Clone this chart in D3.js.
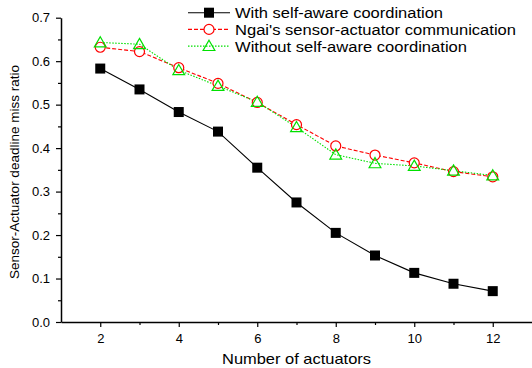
<!DOCTYPE html>
<html>
<head>
<meta charset="utf-8">
<script src="https://cdn.jsdelivr.net/npm/d3@7"></script>
<style>
  body { margin: 0; background: #fff; }
  text { font-family: "Liberation Sans", Arial, sans-serif; fill: #000; }
</style>
</head>
<body>
<div id="chart"></div>
<script>
// data
var actuators = [2, 3, 4, 5, 6, 7, 8, 9, 10, 11, 12];
var withSelfAware = [0.583, 0.535, 0.483, 0.438, 0.355, 0.275, 0.205, 0.153, 0.113, 0.088, 0.071];
var ngai = [0.632, 0.622, 0.585, 0.549, 0.505, 0.454, 0.405, 0.384, 0.366, 0.346, 0.334];
var withoutSelfAware = [0.643, 0.639, 0.579, 0.543, 0.506, 0.448, 0.385, 0.365, 0.359, 0.348, 0.337];
var seriesNames = ["With self-aware coordination", "Ngai's sensor-actuator communication", "Without self-aware coordination"];
var legendWidths = [208, 281, 232];
var xTicks = [2, 4, 6, 8, 10, 12];
var yTicks = [0.0, 0.1, 0.2, 0.3, 0.4, 0.5, 0.6, 0.7];

var w = 532, h = 368;
var margin = {top: 17.7, right: 0, bottom: 46, left: 61};

var svg = d3.select('#chart').append('svg')
  .attr('width', w)
  .attr('height', h);

var x = d3.scaleLinear().domain([1, 13]).range([margin.left, w - margin.right]);
var y = d3.scaleLinear().domain([0, 0.7]).range([h - margin.bottom, margin.top]);

// axes
var xAxis = svg.append('g')
  .attr('transform', 'translate(0,' + y(0) + ')')
  .call(d3.axisBottom(x).tickValues(xTicks).tickFormat(d3.format('d')).tickSize(5).tickSizeOuter(0));
svg.append('g')
  .attr('transform', 'translate(0,' + y(0) + ')')
  .call(d3.axisBottom(x).tickValues([3, 5, 7, 9, 11]).tickFormat('').tickSize(3).tickSizeOuter(0))
  .select('.domain').remove();

var yAxis = svg.append('g')
  .attr('transform', 'translate(' + x(1) + ',0)')
  .call(d3.axisLeft(y).tickValues(yTicks).tickFormat(d3.format('.1f')).tickSize(5).tickSizeOuter(0));
svg.append('g')
  .attr('transform', 'translate(' + x(1) + ',0)')
  .call(d3.axisLeft(y).tickValues([0.05, 0.15, 0.25, 0.35, 0.45, 0.55, 0.65]).tickFormat('').tickSize(3).tickSizeOuter(0))
  .select('.domain').remove();

svg.selectAll('.domain').attr('stroke', '#000').attr('stroke-width', 1.5);
svg.selectAll('.tick line').attr('stroke', '#000').attr('stroke-width', 1.2);
xAxis.selectAll('text').style('font-size', '13px').attr('dy', '1.0em');
yAxis.selectAll('text').style('font-size', '13px').attr('x', -11);

// axis titles
svg.append('text')
  .attr('x', 222).attr('y', 364)
  .attr('textLength', 149).attr('lengthAdjust', 'spacingAndGlyphs')
  .style('font-size', '15px')
  .text('Number of actuators');

svg.append('text')
  .attr('transform', 'translate(19,' + 172 + ') rotate(-90)')
  .attr('text-anchor', 'middle')
  .style('font-size', '13.5px')
  .text('Sensor-Actuator deadline miss ratio');

var line = d3.line()
  .x(function(d, i) { return x(actuators[i]); })
  .y(function(d) { return y(d); });

var series = [
  {values: withSelfAware, color: '#000', dash: null, marker: 'square'},
  {values: ngai, color: '#ff0000', dash: '4,2', marker: 'circle'},
  {values: withoutSelfAware, color: '#00e000', dash: '1.5,1.5', marker: 'triangle'}
];

function drawMarker(g, type, color, cx, cy) {
  if (type == 'square') {
    g.append('rect').attr('x', cx - 5).attr('y', cy - 5).attr('width', 10).attr('height', 10).attr('fill', '#000');
  } else if (type == 'circle') {
    g.append('circle').attr('cx', cx).attr('cy', cy).attr('r', 5).attr('fill', '#fff').attr('stroke', color).attr('stroke-width', 1.2);
  } else {
    g.append('path').attr('d', d3.symbol().type(d3.symbolTriangle).size(60)())
      .attr('transform', 'translate(' + cx + ',' + (cy + 1) + ')')
      .attr('fill', 'none').attr('stroke', color).attr('stroke-width', 1.2);
  }
}

series.forEach(function(s) {
  svg.append('path')
    .datum(s.values)
    .attr('d', line)
    .attr('fill', 'none')
    .attr('stroke', s.color)
    .attr('stroke-width', 1.1)
    .attr('stroke-dasharray', s.dash);
});
series.forEach(function(s) {
  var g = svg.append('g');
  s.values.forEach(function(v, i) {
    drawMarker(g, s.marker, s.color, x(actuators[i]), y(v));
  });
});

// legend
var legend = svg.append('g');
series.forEach(function(s, i) {
  var ly = 12.7 + i * 16.7;
  legend.append('line')
    .attr('x1', 188).attr('x2', 230).attr('y1', ly).attr('y2', ly)
    .attr('stroke', s.color).attr('stroke-width', 1.1)
    .attr('stroke-dasharray', s.dash);
  drawMarker(legend, s.marker, s.color, 209, ly);
  legend.append('text')
    .attr('x', 235).attr('y', ly)
    .attr('dy', '0.36em')
    .attr('textLength', legendWidths[i]).attr('lengthAdjust', 'spacingAndGlyphs')
    .style('font-size', '15.5px')
    .text(seriesNames[i]);
});
</script>
</body>
</html>
